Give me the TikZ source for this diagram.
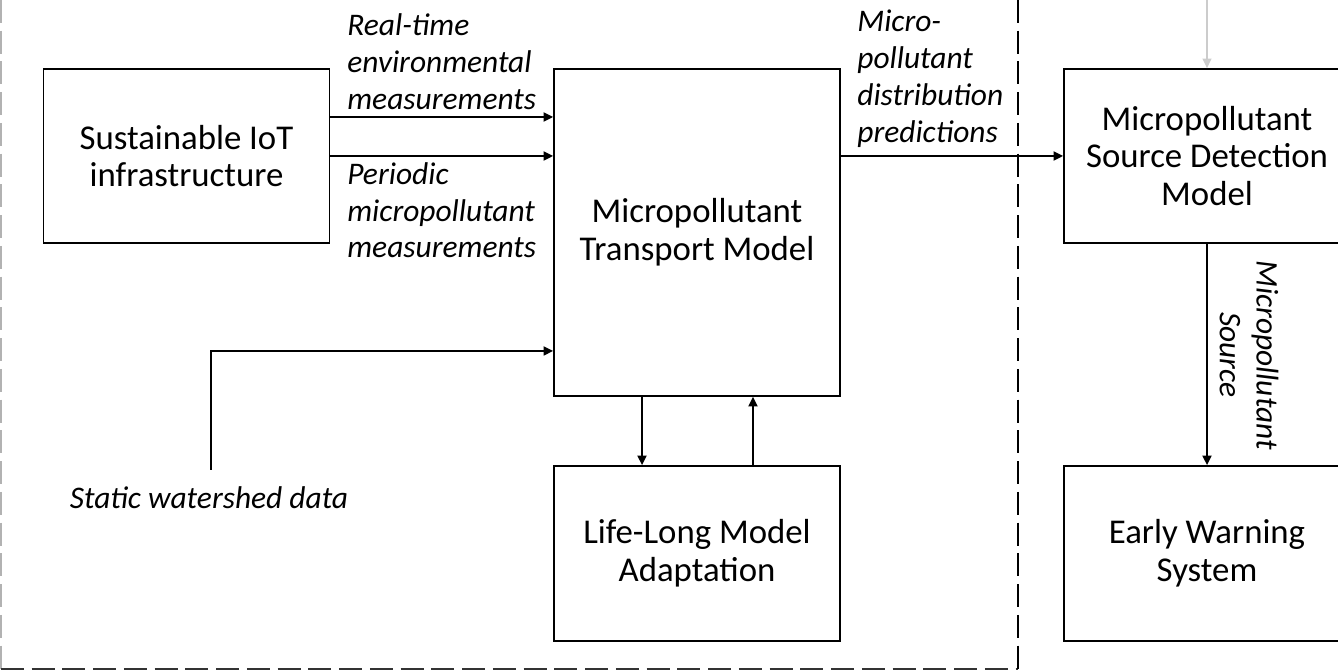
\documentclass[tikz,border=0pt]{standalone}
\usepackage{fontspec}
\setmainfont{Carlito}
\usetikzlibrary{arrows.meta}

\begin{document}
\begin{tikzpicture}
  [x=0.02cm, y=0.02cm,
   box/.style={draw, line width=0.9pt, minimum width=5.72cm, align=center,
               inner sep=0pt, font=\fontsize{19.8}{21.5}\selectfont},
   lbl/.style={align=left, inner sep=0pt, font=\fontsize{17.9}{21}\selectfont\itshape},
   arr/.style={line width=1.4pt, -{Triangle[length=5.5pt,width=5pt]}},
   fence/.style={line width=1.4pt, dash pattern=on 13pt off 4.5pt}]
  \useasboundingbox (0,0) rectangle (1338,671);

  % frame of the left part
  \draw[fence, gray!60, line width=1pt] (1,671) -- (1,2);
  \draw[fence, black!80, line width=1.1pt] (1,2) -- (1018,2);
  \draw[fence] (1018,671) -- (1018,2);

  % boxes
  \node[box, minimum height=3.48cm] (iot) at (186.5,515) {Sustainable IoT\\infrastructure};
  \node[box, minimum height=6.54cm] (transport) at (697,438.5) {Micropollutant\\Transport Model};
  \node[box, minimum height=3.5cm] (lifelong) at (697,117.5) {Life-Long Model\\Adaptation};
  \node[box, minimum height=3.48cm] (source) at (1207,515) {Micropollutant\\Source Detection\\Model};
  \node[box, minimum height=3.5cm] (warning) at (1207,117.5) {Early Warning\\System};

  % labels
  \node[lbl, anchor=south west] (rtlbl) at (347,561) {Real-time\\environmental\\measurements};
  \node[lbl, anchor=north west] (perlbl) at (347,509) {Periodic\\micropollutant\\measurements};
  \node[lbl, anchor=south west] (predlbl) at (857,523) {Micro-\\pollutant\\distribution\\predictions};
  \node[lbl, anchor=north] (wshed) at (209,185) {Static watershed data};
  \node[lbl, rotate=-90, align=center] (srclbl) at (1249,316) {Micropollutant\\Source};

  % connectors
  \coordinate (wfoot) at (211,201);
  \coordinate (feed) at (1207,675);
  \draw[arr] ([yshift=0.78cm]iot.east) -- ([yshift=0.78cm]iot.east -| transport.west);
  \draw[arr] (iot.east) -- (iot.east -| transport.west);
  \draw[arr] (wfoot) |- ([yshift=-2.37cm]transport.west);
  \draw[arr] ([xshift=-1.1cm]transport.south) -- ([xshift=-1.1cm]lifelong.north);
  \draw[arr] ([xshift=1.12cm]lifelong.north) -- ([xshift=1.12cm]transport.south);
  \draw[arr] (source.west -| transport.east) -- (source.west);
  \draw[arr] (source) -- (warning);
  \draw[arr, gray!40, line width=1pt] (feed) -- (source.north);
\end{tikzpicture}
\end{document}
